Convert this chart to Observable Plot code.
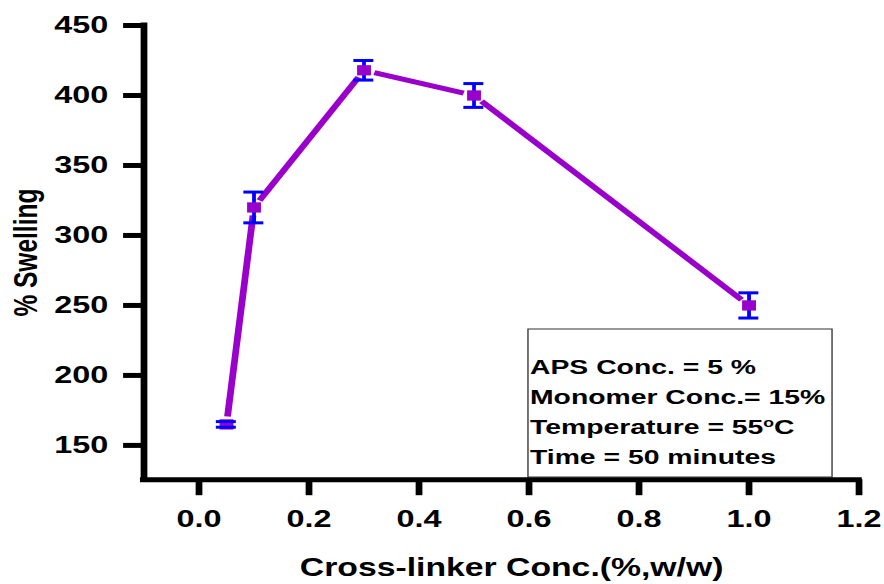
<!DOCTYPE html>
<html>
<head>
<meta charset="utf-8">
<script src="https://cdn.jsdelivr.net/npm/d3@7"></script>
<script src="https://cdn.jsdelivr.net/npm/@observablehq/plot@0.6"></script>
<style>
html, body { margin: 0; padding: 0; background: #fff; overflow: hidden; }
#chart { width: 884px; height: 584px; }
</style>
</head>
<body>
<div id="chart"></div>
<script>
// ---- data ----
const crossLinker = [0.05, 0.1, 0.3, 0.5, 1.0];          // % w/w
const swelling    = [165, 320, 418, 400, 250];            // % swelling
const swellingErr = [2, 11, 7, 8.5, 9];                   // +/- error
const xTicks = [0, 0.2, 0.4, 0.6, 0.8, 1.0, 1.2];
const yTicks = [150, 200, 250, 300, 350, 400, 450];
const xDomain = [-0.1, 1.2];
const yDomain = [125.5, 450];
const xTitle = "Cross-linker Conc.(%,w/w)";
const yTitle = "% Swelling";
const conditionLines = ["APS Conc. = 5 %", "Monomer Conc.= 15%", "Temperature = 55", "Time = 50 minutes"];

// ---- derived tables ----
const points = crossLinker.map((x, i) => ({
  x, y: swelling[i], lo: swelling[i] - swellingErr[i], hi: swelling[i] + swellingErr[i]
}));
const segments = d3.pairs(points).map(([a, b]) => ({x1: a.x, y1: a.y, x2: b.x, y2: b.y}));

// ---- layout / style ----
const OUT_W = 884, H = 584;
const W = 655;                 // drawn narrower, then stretched horizontally like the original
const PURPLE = "#9900cc", BLUE = "#0000ff";
const FONT = "'Liberation Sans', Arial, Helvetica, sans-serif";

function conditionsBox() {
  const g = d3.create("svg:g");
  const x0 = 391.2, y0 = 329, x1 = 616.5, y1 = 477;
  g.append("rect")
    .attr("x", x0).attr("y", y0).attr("width", x1 - x0).attr("height", y1 - y0)
    .attr("fill", "white").attr("stroke", "#333").attr("stroke-width", 1);
  const baselines = [374, 404, 434, 464];
  conditionLines.forEach((line, i) => {
    const t = g.append("text")
      .attr("x", x0 + 1.5).attr("y", baselines[i])
      .attr("text-anchor", "start")
      .attr("font-family", FONT).attr("font-weight", "bold").attr("font-size", 21)
      .attr("fill", "black")
      .text(line);
    if (line.startsWith("Temperature")) {
      t.append("tspan").attr("dy", -7).attr("font-size", 13).text("o");
      t.append("tspan").attr("dy", 7).text("C");
    }
  });
  return g.node();
}

const svg = Plot.plot({
  width: W,
  height: H,
  marginLeft: 106.2,
  marginRight: 19,
  marginTop: 25,
  marginBottom: 104.8,
  style: {fontFamily: FONT, fontWeight: "bold", color: "black", background: "white", overflow: "visible"},
  x: {domain: xDomain},
  y: {domain: yDomain},
  marks: [
    conditionsBox,
    Plot.axisX({ticks: xTicks, tickFormat: d3.format(".1f"), tickSize: 16, tickPadding: 14,
      strokeWidth: 5, fontSize: 24, fontWeight: "bold", label: null}),
    Plot.axisY({ticks: yTicks, tickSize: 15, tickPadding: 11.5,
      strokeWidth: 5, fontSize: 24, fontWeight: "bold", label: null}),
    Plot.ruleX([xDomain[0]], {stroke: "black", strokeWidth: 5, strokeLinecap: "square"}),
    Plot.ruleY([yDomain[0]], {stroke: "black", strokeWidth: 5, strokeLinecap: "square"}),
    Plot.text([yTitle], {text: d => d, frameAnchor: "left", rotate: -90, dx: -96.7,
      textAnchor: "middle", lineAnchor: "top", fontSize: 24.5, fontWeight: "bold", fill: "black"}),
    Plot.text([xTitle], {text: d => d, frameAnchor: "bottom", dx: 7.5, dy: 78.5,
      textAnchor: "middle", lineAnchor: "top", fontSize: 25, fontWeight: "bold", fill: "black"}),
    Plot.arrow(segments, {x1: "x1", y1: "y1", x2: "x2", y2: "y2", stroke: PURPLE,
      strokeWidth: 5, headLength: 0, inset: 8, bend: 0, strokeLinecap: "butt"}),
    Plot.ruleX(points, {x: "x", y1: "lo", y2: "hi", stroke: BLUE, strokeWidth: 2.8}),
    Plot.dot(points, {x: "x", y: "y", symbol: "square", r: 5.8, fill: PURPLE, stroke: "none"}),
    Plot.ruleY(points, {y: "hi", x1: "x", x2: "x", insetLeft: -7.4, insetRight: -7.4, stroke: BLUE, strokeWidth: 3}),
    Plot.ruleY(points, {y: "lo", x1: "x", x2: "x", insetLeft: -7.4, insetRight: -7.4, stroke: BLUE, strokeWidth: 3})
  ]
});

svg.setAttribute("width", OUT_W);
svg.setAttribute("height", H);
svg.setAttribute("preserveAspectRatio", "none");
svg.style.width = OUT_W + "px";
svg.style.height = H + "px";
svg.style.maxWidth = "none";
document.getElementById("chart").appendChild(svg);
</script>
</body>
</html>
